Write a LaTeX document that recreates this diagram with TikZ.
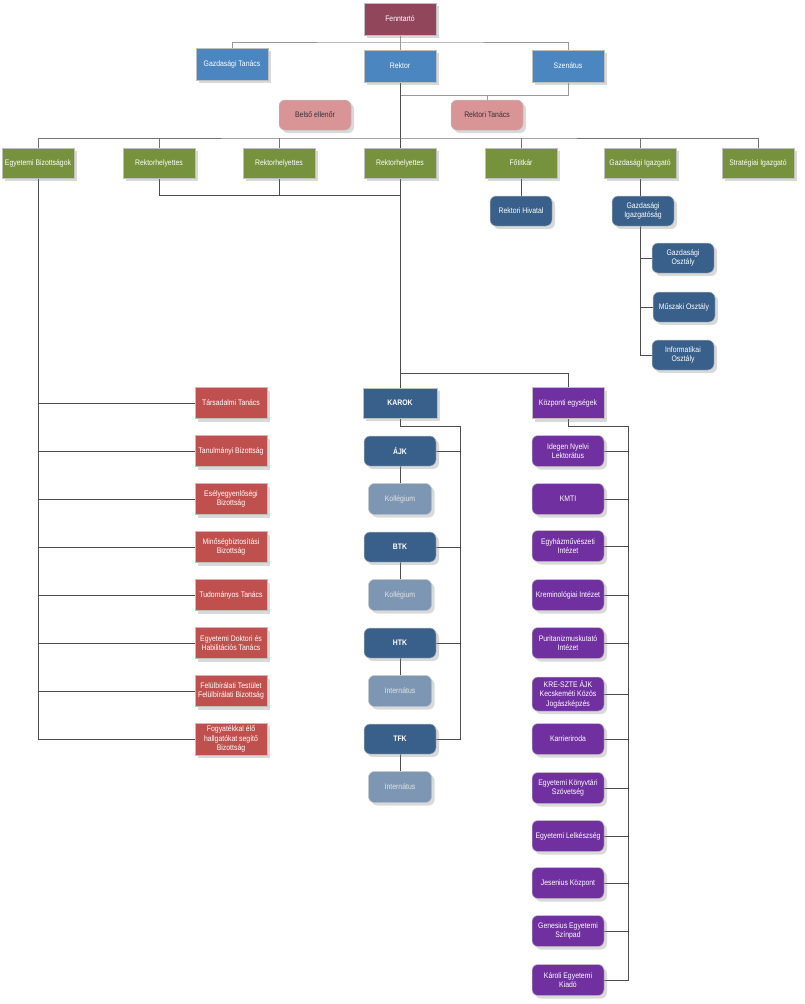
\documentclass[tikz,border=0pt]{standalone}
\usepackage{fontspec}
\setmainfont{Liberation Sans}[FakeStretch=0.86]
\usepackage{tikz}
\usetikzlibrary{positioning,shadows,backgrounds}
\usepackage{xcolor}
\definecolor{ownercol}{RGB}{146,70,92}
\definecolor{topblue}{RGB}{76,134,192}
\definecolor{pinkcol}{RGB}{217,148,150}
\definecolor{greencol}{RGB}{118,146,60}
\definecolor{navycol}{RGB}{56,96,138}
\definecolor{greycol}{RGB}{124,150,180}
\definecolor{redcol}{RGB}{192,80,77}
\definecolor{purplecol}{RGB}{112,48,160}

\begin{document}
\begin{tikzpicture}[
  x=1pt, y=-1pt,
  font=\fontsize{8}{9.5}\selectfont,
  unit/.style={
    draw=black!25, line width=0.5pt, text=white, align=center, inner sep=1pt,
    minimum width=72pt, minimum height=31pt,
    drop shadow={shadow xshift=3pt, shadow yshift=-3pt, opacity=0.3}
  },
  rbox/.style={unit, rounded corners=6pt},
  ownerbox/.style={unit, fill=ownercol, minimum height=32pt},
  bluebox/.style={unit, fill=topblue, minimum height=32pt},
  pinkbox/.style={rbox, fill=pinkcol, text=black!80, minimum height=30pt},
  greenbox/.style={unit, fill=greencol, minimum height=30pt},
  navybox/.style={rbox, fill=navycol, minimum width=62pt, minimum height=30pt},
  redbox/.style={unit, fill=redcol},
  headbox/.style={unit, fill=navycol, minimum width=74pt, minimum height=30pt, font=\fontsize{8}{9.5}\selectfont\bfseries},
  facbox/.style={rbox, fill=navycol, minimum height=30pt, font=\fontsize{8}{9.5}\selectfont\bfseries},
  subbox/.style={rbox, fill=greycol, text=white!90!black, minimum width=63pt},
  purplebox/.style={unit, fill=purplecol},
  centrebox/.style={rbox, fill=purplecol},
  conn/.style={draw=black!40, line width=1pt},
  link/.style={draw=black!70, line width=1pt}
]
\useasboundingbox (0,0) rectangle (804,1004);

% top of the tree
\node[ownerbox] (fenn) at (400,19) {Fenntartó};
\node[bluebox] (gtanacs) at (232,64) {Gazdasági Tanács};
\node[bluebox] (rektor) at (400,66) {Rektor};
\node[bluebox] (szenatus) at (568,66) {Szenátus};
\node[pinkbox] (belso) at (315,115) {Belső ellenőr};
\node[pinkbox] (rtanacs) at (487,115) {Rektori Tanács};

% green row
\node[greenbox] (egybiz) at (38,163) {Egyetemi Bizottságok};
\node[greenbox] (rh1) at (159,163) {Rektorhelyettes};
\node[greenbox] (rh2) at (279,163) {Rektorhelyettes};
\node[greenbox] (rh3) at (400,163) {Rektorhelyettes};
\node[greenbox] (fotitkar) at (521,163) {Főtitkár};
\node[greenbox] (gigazgato) at (640,163) {Gazdasági Igazgató};
\node[greenbox] (strat) at (758,163) {Stratégiai Igazgató};

\node[navybox] (rhivatal) at (521,211) {Rektori Hivatal};
\node[navybox] (gigsag) at (643,211) {Gazdasági\\Igazgatóság};
\node[navybox] (gosztaly) at (683,258) {Gazdasági\\Osztály};
\node[navybox] (mosztaly) at (684,307) {Műszaki Osztály};
\node[navybox] (iosztaly) at (683,355) {Informatikai\\Osztály};

% committees
\node[redbox] (tars) at (231,403) {Társadalmi Tanács};
\node[redbox] (tanul) at (231,451) {Tanulmányi Bizottság};
\node[redbox] (esely) at (231,499) {Esélyegyenlőségi\\Bizottság};
\node[redbox] (minoseg) at (231,547) {Minőségbiztosítási\\Bizottság};
\node[redbox] (tudom) at (231,595) {Tudományos Tanács};
\node[redbox] (doktor) at (231,643) {Egyetemi Doktori és\\Habilitációs Tanács};
\node[redbox] (felul) at (231,691) {Felülbírálati Testület\\Felülbírálati Bizottság};
\node[redbox, minimum height=32pt] (fogy) at (231,739) {Fogyatékkal élő\\hallgatókat segítő\\Bizottság};

% faculties
\node[headbox] (karok) at (400,403) {KAROK};
\node[facbox] (ajk) at (400,451) {ÁJK};
\node[subbox] (koll1) at (400,499) {Kollégium};
\node[facbox] (btk) at (400,547) {BTK};
\node[subbox] (koll2) at (400,595) {Kollégium};
\node[facbox] (htk) at (400,643) {HTK};
\node[subbox] (intern1) at (400,691) {Internátus};
\node[facbox] (tfk) at (400,739) {TFK};
\node[subbox] (intern2) at (400,787) {Internátus};

% central units
\node[purplebox] (kozp) at (568,403) {Központi egységek};
\node[centrebox] (idegen) at (568,451) {Idegen Nyelvi\\Lektorátus};
\node[centrebox] (kmti) at (568,499) {KMTI};
\node[centrebox] (egyhaz) at (568,546) {Egyházművészeti\\Intézet};
\node[centrebox] (kremin) at (568,595) {Kreminológiai Intézet};
\node[centrebox] (purit) at (568,643) {Puritanizmuskutató\\Intézet};
\node[centrebox, minimum height=34pt] (kresz) at (568,694) {KRE-SZTE ÁJK\\Kecskeméti Közös\\Jogászképzés};
\node[centrebox] (karrier) at (568,739) {Karrieriroda};
\node[centrebox] (konyvt) at (568,788) {Egyetemi Könyvtári\\Szövetség};
\node[centrebox] (lelkesz) at (568,836) {Egyetemi Lelkészség};
\node[centrebox] (jesen) at (568,883) {Jesenius Központ};
\node[centrebox] (genes) at (568,931) {Genesius Egyetemi\\Színpad};
\node[centrebox] (kiado) at (568,980) {Károli Egyetemi\\Kiadó};

\coordinate (topbar) at (400,42);
\coordinate (senbar) at (400,95);
\coordinate (gbar) at (400,138);
\coordinate (rhbar) at (400,195);
\coordinate (kbar) at (400,373);
\coordinate (kvert) at (460,426);
\coordinate (pvert) at (628,426);

\begin{pgfonlayer}{background}
\draw[conn] (fenn.south) -- (topbar);
\draw[conn] (gtanacs.north) |- (topbar) -| (szenatus.north);
\draw[conn] (topbar) -- (rektor.north);
\draw[conn] (szenatus.south) |- (senbar);
\draw[conn] (rtanacs.north) -- (rtanacs.north |- senbar);
\draw[link] (rektor.south) -- (karok.north);
\draw[link, draw=black!55] (egybiz.north) |- (gbar) -| (strat.north);
\foreach \n in {rh1,rh2,fotitkar,gigazgato}
  \draw[link, draw=black!55] (\n.north) -- (\n.north |- gbar);
\draw[link] (rh1.south) |- (rhbar);
\draw[link] (rh2.south) -- (rh2.south |- rhbar);
\draw[link] (fotitkar.south) -- (rhivatal.north);
\draw[link] (gigazgato.south) |- (iosztaly.west);
\draw[link] (gosztaly.west) -- (gosztaly.west -| gigazgato.south);
\draw[link] (mosztaly.west) -- (mosztaly.west -| gigazgato.south);
% committees
\draw[link] (egybiz.south) |- (fogy.west);
\foreach \n in {tars,tanul,esely,minoseg,tudom,doktor,felul}
  \draw[link] (\n.west) -- (\n.west -| egybiz.south);
% faculties
\draw[link] (kozp.north) |- (kbar);
\draw[link] (karok.south) |- (kvert) |- (tfk.east);
\foreach \n in {ajk,btk,htk}
  \draw[link] (\n.east) -- (\n.east -| kvert);
\draw[link] (ajk.south) -- (koll1.north);
\draw[link] (btk.south) -- (koll2.north);
\draw[link] (htk.south) -- (intern1.north);
\draw[link] (tfk.south) -- (intern2.north);
% central units
\draw[link] (kozp.south) |- (pvert) |- (kiado.east);
\foreach \n in {idegen,kmti,egyhaz,kremin,purit,kresz,karrier,konyvt,lelkesz,jesen,genes}
  \draw[link] (\n.east) -- (\n.east -| pvert);
\end{pgfonlayer}
\end{tikzpicture}
\end{document}
